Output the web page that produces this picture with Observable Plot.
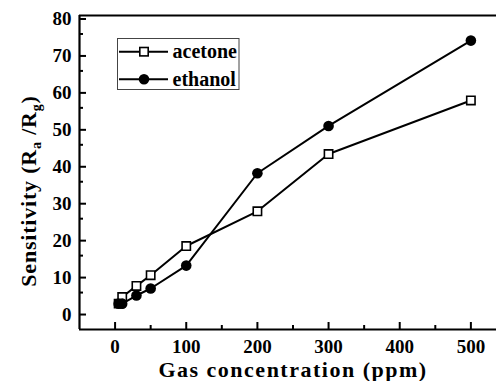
<!DOCTYPE html>
<html>
<head>
<meta charset="utf-8">
<script src="https://cdn.jsdelivr.net/npm/d3@7"></script>
<script src="https://cdn.jsdelivr.net/npm/@observablehq/plot@0.6"></script>
<style>
  html, body { margin: 0; padding: 0; background: #fff; }
  #chart svg { display: block; }
</style>
</head>
<body>
<div id="chart"></div>
<script>
const concentration = [5, 10, 30, 50, 100, 200, 300, 500];
const acetone = [2.0, 3.8, 6.8, 9.7, 17.6, 27.0, 42.5, 57.0];
const ethanol = [2.0, 2.0, 4.2, 6.1, 12.3, 37.3, 50.1, 73.2];
const xMajorTicks = [0, 100, 200, 300, 400, 500];
const xMinorTicks = [50, 150, 250, 350, 450];
const yMajorTicks = [0, 10, 20, 30, 40, 50, 60, 70, 80];
const yMinorTicks = [5, 15, 25, 35, 45, 55, 65, 75];
const xDomain = [-50, 536];
const yDomain = [-5, 80];
const seriesNames = ["acetone", "ethanol"];
const xTitle = "Gas concentration (ppm)";

const acetoneData = concentration.map((c, i) => ({c, v: acetone[i]}));
const ethanolData = concentration.map((c, i) => ({c, v: ethanol[i]}));

const font = "'Liberation Serif', 'DejaVu Serif', serif";

const plot = Plot.plot({
  width: 496,
  height: 381,
  marginLeft: 79,
  marginRight: 0,
  marginTop: 15,
  marginBottom: 52,
  style: {fontFamily: font, fontSize: "19px", fontWeight: "bold", background: "white", color: "black"},
  x: {domain: xDomain},
  y: {domain: yDomain},
  marks: [
    Plot.ruleY([yDomain[1]], {stroke: "black", strokeWidth: 2.2}),
    Plot.ruleY([yDomain[0]], {stroke: "black", strokeWidth: 2.2}),
    Plot.ruleX([xDomain[0]], {stroke: "black", strokeWidth: 2.2}),
    Plot.axisX({ticks: xMajorTicks, tickSize: -7, tickPadding: 16.5, strokeWidth: 2, label: null}),
    Plot.axisX({ticks: xMinorTicks, tickSize: -4, tickFormat: () => "", strokeWidth: 2, label: null}),
    Plot.axisY({ticks: yMajorTicks, tickSize: -7, tickPadding: 15, dy: 3.5, strokeWidth: 2, label: null}),
    Plot.axisY({ticks: yMinorTicks, tickSize: -4, tickFormat: () => "", strokeWidth: 2, label: null}),
    Plot.line(acetoneData, {x: "c", y: "v", stroke: "black", strokeWidth: 2}),
    Plot.dot(acetoneData, {x: "c", y: "v", symbol: "square", r: 4.7, fill: "white", stroke: "black", strokeWidth: 1.6}),
    Plot.line(ethanolData, {x: "c", y: "v", stroke: "black", strokeWidth: 2}),
    Plot.dot(ethanolData, {x: "c", y: "v", r: 5.3, fill: "black", stroke: "none"})
  ]
});

document.getElementById("chart").appendChild(plot);

const svg = d3.select(plot);

// x-axis title
svg.append("text")
  .attr("x", 293).attr("y", 376.5)
  .attr("text-anchor", "middle")
  .style("font-family", font).style("font-weight", "bold").style("font-size", "22px")
  .style("letter-spacing", "1.5px")
  .attr("fill", "black")
  .text(xTitle);

// y-axis title with subscripts
const yt = svg.append("text")
  .attr("transform", "translate(35.5,191) rotate(-90)")
  .attr("text-anchor", "middle")
  .style("font-family", font).style("font-weight", "bold").style("font-size", "22px")
  .style("letter-spacing", "0.8px")
  .attr("fill", "black");
yt.append("tspan").text("Sensitivity (R");
yt.append("tspan").attr("dy", 5).style("font-size", "14px").text("a");
yt.append("tspan").attr("dy", -5).text(" /R");
yt.append("tspan").attr("dy", 5).style("font-size", "14px").text("g");
yt.append("tspan").attr("dy", -5).text(")");

// legend
const lg = svg.append("g").attr("text-anchor", "start");
lg.append("rect").attr("x", 117.5).attr("y", 38.5).attr("width", 121.5).attr("height", 51)
  .attr("fill", "white").attr("stroke", "#444").attr("stroke-width", 1);
const rows = [51.7, 79.3];
seriesNames.forEach((name, i) => {
  const y = rows[i];
  lg.append("line").attr("x1", 119).attr("x2", 168).attr("y1", y).attr("y2", y)
    .attr("stroke", "black").attr("stroke-width", 2);
  if (i === 0) {
    lg.append("rect").attr("x", 144 - 4.2).attr("y", y - 4.2).attr("width", 8.4).attr("height", 8.4)
      .attr("fill", "white").attr("stroke", "black").attr("stroke-width", 1.6);
  } else {
    lg.append("circle").attr("cx", 144).attr("cy", y).attr("r", 5.3).attr("fill", "black");
  }
  lg.append("text").attr("x", 172.5).attr("y", y + 6.5)
    .attr("text-anchor", "start")
    .style("font-family", font).style("font-weight", "bold").style("font-size", "20px")
    .attr("fill", "black").text(name);
});
</script>
</body>
</html>
